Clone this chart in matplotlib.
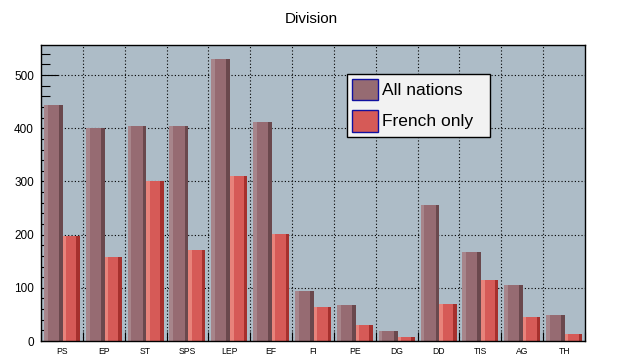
import matplotlib
matplotlib.use("Agg")
import matplotlib.pyplot as plt
from matplotlib.patches import Rectangle
from matplotlib.ticker import MultipleLocator, FixedLocator
import numpy as np

plt.rcParams['font.family'] = ['Liberation Sans', 'DejaVu Sans']

categories = ["PS", "EP", "ST", "SPS", "LEP", "EF", "FI", "PE", "DG", "DD", "TIS", "AG", "TH"]
all_nations = [444, 400, 404, 404, 530, 411, 94, 68, 19, 255, 168, 106, 49]
french_only = [198, 158, 300, 172, 310, 201, 63, 30, 7, 70, 115, 45, 14]
series_names = ["All nations", "French only"]

W, H = 622, 364
fig = plt.figure(figsize=(W / 100, H / 100), dpi=100)
ax = fig.add_axes([41 / W, 1 - 341 / H, (585 - 41) / W, (341 - 45) / H])
ax.set_facecolor("#adbcc7")

x = np.arange(len(categories))

def shaded_bars(left, width, values, light, mid, dark):
    f = 0.2
    ax.bar(x + left, values, width=width * f, align='edge', color=light, linewidth=0, zorder=2)
    ax.bar(x + left + width * f, values, width=width * (1 - 2 * f), align='edge', color=mid, linewidth=0, zorder=2)
    ax.bar(x + left + width * (1 - f), values, width=width * f, align='edge', color=dark, linewidth=0, zorder=2)

c_all = ("#a7858b", "#966b72", "#6a484d")
c_fr = ("#e8837b", "#d65a57", "#a6302d")
shaded_bars(0.07, 0.45, all_nations, *c_all)
shaded_bars(0.52, 0.41, french_only, *c_fr)

ymax = max(all_nations) * 1.05
ax.set_xlim(0, len(categories))
ax.set_ylim(0, ymax)

# grid
for yv in range(100, 600, 100):
    ax.axhline(yv, color='black', lw=0.8, ls=(0, (1, 2)), zorder=1)
for xv in range(1, len(categories)):
    ax.axvline(xv, color='black', lw=0.8, ls=(0, (1, 2)), zorder=1)

# y ticks
ax.yaxis.set_major_locator(MultipleLocator(100))
ax.yaxis.set_minor_locator(MultipleLocator(20))
ax.tick_params(axis='y', which='major', direction='in', length=12, width=0.8, labelsize=8.5, pad=5)
ax.tick_params(axis='y', which='minor', direction='in', length=6.5, width=0.8)

# x ticks
ax.set_xticks(x + 0.5)
ax.set_xticklabels(categories)
ax.xaxis.set_minor_locator(FixedLocator(np.arange(0, len(categories) + 1)))
ax.tick_params(axis='x', which='major', length=0, labelsize=6.2, pad=4)
ax.tick_params(axis='x', which='minor', direction='in', length=6.5, width=0.8)

for s in ax.spines.values():
    s.set_linewidth(1.0)

fig.text(311 / W, 1 - 19 / H, "Division", ha='center', va='center', fontsize=11)

# legend box (figure pixel coordinates converted to fractions)
def fx(px):
    return px / W

def fy(py):
    return 1 - py / H

fig.patches.append(Rectangle((fx(347), fy(137)), fx(490) - fx(347), fy(74) - fy(137),
                             transform=fig.transFigure, facecolor='#f2f2f2',
                             edgecolor='black', linewidth=1.0, zorder=5))
rows = [(79, 100, c_all[1], series_names[0]), (110, 132, c_fr[1], series_names[1])]
for top, bot, col, name in rows:
    fig.patches.append(Rectangle((fx(352), fy(bot)), fx(378) - fx(352), fy(top) - fy(bot),
                                 transform=fig.transFigure, facecolor=col,
                                 edgecolor='#1010a0', linewidth=1.0, zorder=6))
    fig.text(fx(382), fy((top + bot) / 2 + 1), name, ha='left', va='center',
             fontsize=12.5, zorder=7)

fig.savefig("out.png", dpi=100)
